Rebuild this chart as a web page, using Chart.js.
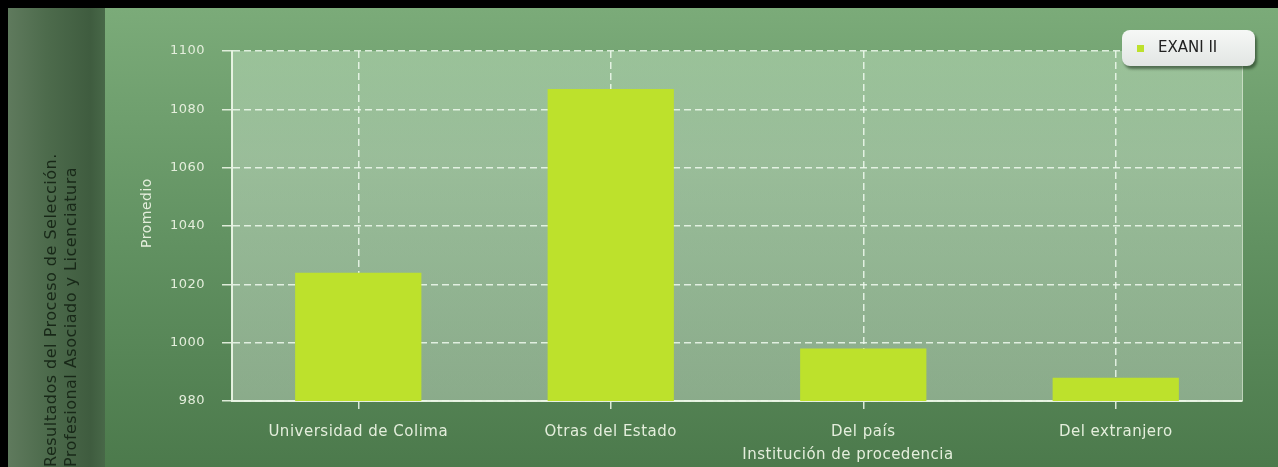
<!DOCTYPE html>
<html>
<head>
<meta charset="utf-8">
<script src="https://cdn.jsdelivr.net/npm/chart.js@4/dist/chart.umd.min.js"></script>
<style>
  html, body { margin: 0; padding: 0; background: #000; overflow: hidden; }
  #wrap { position: absolute; left: 8px; top: 8px; width: 1270px; height: 459px; }
</style>
</head>
<body>
<div id="wrap"><canvas id="grafica"></canvas></div>
<script>
// datos
const categorias = ['Universidad de Colima', 'Otras del Estado', 'Del país', 'Del extranjero'];
const promedios = [1024, 1087, 998, 988];
const serie = 'EXANI II';
const titulo = ['Resultados del Proceso de Selección.', 'Profesional Asociado y Licenciatura'];
const tituloY = 'Promedio';
const tituloX = 'Institución de procedencia';
const yMin = 980, yMax = 1100, yPaso = 20;

const colorBarra = '#bde12c';
const colorTexto = '#e4eedc';
const colorRejilla = 'rgba(240,250,238,0.85)';

// fondos del panel y del area de grafica
const fondo = {
  id: 'fondo',
  beforeDraw(chart) {
    const { ctx, width, height, chartArea: a } = chart;
    ctx.save();
    let g = ctx.createLinearGradient(0, 0, 0, height);
    g.addColorStop(0, '#7bab79');
    g.addColorStop(0.5, '#629262');
    g.addColorStop(1, '#4c7a4c');
    ctx.fillStyle = g;
    ctx.fillRect(0, 0, width, height);

    g = ctx.createLinearGradient(0, 0, 97, 0);
    g.addColorStop(0, '#5f7a5d');
    g.addColorStop(0.4, '#4d6b4c');
    g.addColorStop(0.85, '#3f5c3f');
    g.addColorStop(1, '#486848');
    ctx.fillStyle = g;
    ctx.fillRect(0, 0, 97, height);

    g = ctx.createLinearGradient(0, a.top, 0, a.bottom);
    g.addColorStop(0, 'rgba(220,245,220,0.35)');
    g.addColorStop(0.3, 'rgba(230,245,230,0.38)');
    g.addColorStop(1, 'rgba(230,240,230,0.38)');
    ctx.fillStyle = g;
    ctx.fillRect(a.left, a.top, a.right - a.left, a.bottom - a.top);

    ctx.strokeStyle = 'rgba(235,245,230,0.7)';
    ctx.lineWidth = 1;
    ctx.beginPath();
    ctx.moveTo(a.right + 0.5, a.top);
    ctx.lineTo(a.right + 0.5, a.bottom);
    ctx.stroke();
    ctx.restore();
    ctx.letterSpacing = '0.5px';
  },
  afterDraw(chart) {
    const { ctx, chartArea: a } = chart;
    ctx.save();
    ctx.letterSpacing = '0.5px';
    ctx.fillStyle = colorTexto;
    ctx.font = '15px "DejaVu Sans"';
    ctx.textAlign = 'center';
    ctx.textBaseline = 'middle';
    ctx.fillText(tituloX, (a.left + a.right) / 2 + 111, 447);

    ctx.font = '14px "DejaVu Sans"';
    ctx.translate(139, 205);
    ctx.rotate(-Math.PI / 2);
    ctx.fillText(tituloY, 0, 0);
    ctx.restore();

    // leyenda
    ctx.save();
    ctx.letterSpacing = '0px';
    const x = a.right - 120, y = a.top - 21, w = 133, h = 36;
    ctx.shadowColor = 'rgba(20,40,20,0.55)';
    ctx.shadowOffsetX = 2;
    ctx.shadowOffsetY = 3;
    ctx.shadowBlur = 3;
    const g = ctx.createLinearGradient(0, y, 0, y + h);
    g.addColorStop(0, '#f6f8f6');
    g.addColorStop(1, '#e2e6e4');
    ctx.fillStyle = g;
    ctx.beginPath();
    ctx.roundRect(x, y, w, h, 8);
    ctx.fill();
    ctx.shadowColor = 'transparent';
    ctx.fillStyle = chart.data.datasets[0].backgroundColor;
    ctx.fillRect(x + 15, y + 15, 7, 7);
    ctx.fillStyle = '#222';
    ctx.font = '15px "DejaVu Sans"';
    ctx.textBaseline = 'middle';
    ctx.fillText(chart.data.datasets[0].label, x + 36, y + 18);
    ctx.restore();
  }
};

new Chart(document.getElementById('grafica'), {
  type: 'bar',
  data: {
    labels: categorias,
    datasets: [{
      label: serie,
      data: promedios,
      backgroundColor: colorBarra,
      borderWidth: 0,
      barPercentage: 0.5,
      categoryPercentage: 1
    }]
  },
  options: {
    responsive: true,
    maintainAspectRatio: false,
    animation: false,
    layout: { padding: { left: 34, top: 43, right: 36, bottom: 0 } },
    plugins: {
      legend: { display: false },
      tooltip: { enabled: false },
      title: {
        display: true,
        position: 'left',
        align: 'start',
        text: titulo,
        color: '#182818',
        font: { family: 'DejaVu Sans', size: 16, weight: 'normal', lineHeight: 1.25 },
        padding: 0
      }
    },
    scales: {
      x: {
        afterFit(s) { s.height = 66; },
        grid: {
          offset: false,
          color: colorRejilla,
          lineWidth: 1.5,
          tickLength: 8,
          tickColor: 'rgba(235,245,230,0.9)',
          tickWidth: 1.5
        },
        border: { display: true, color: 'rgba(235,245,230,0.95)', width: 2, dash: [7, 4] },
        ticks: {
          color: colorTexto,
          font: { family: 'DejaVu Sans', size: 15 },
          padding: 14,
          maxRotation: 0
        }
      },
      y: {
        min: yMin,
        max: yMax,
        afterFit(s) { s.width = 150; },
        grid: {
          color: colorRejilla,
          lineWidth: 1.5,
          tickLength: 10,
          tickColor: 'rgba(235,245,230,0.9)',
          tickWidth: 1.5
        },
        border: { display: true, color: 'rgba(235,245,230,0.95)', width: 2, dash: [7, 4] },
        ticks: {
          stepSize: yPaso,
          color: colorTexto,
          font: { family: 'DejaVu Sans', size: 13 },
          padding: 17,
          callback: v => String(v)
        }
      }
    }
  },
  plugins: [fondo]
});
</script>
</body>
</html>
